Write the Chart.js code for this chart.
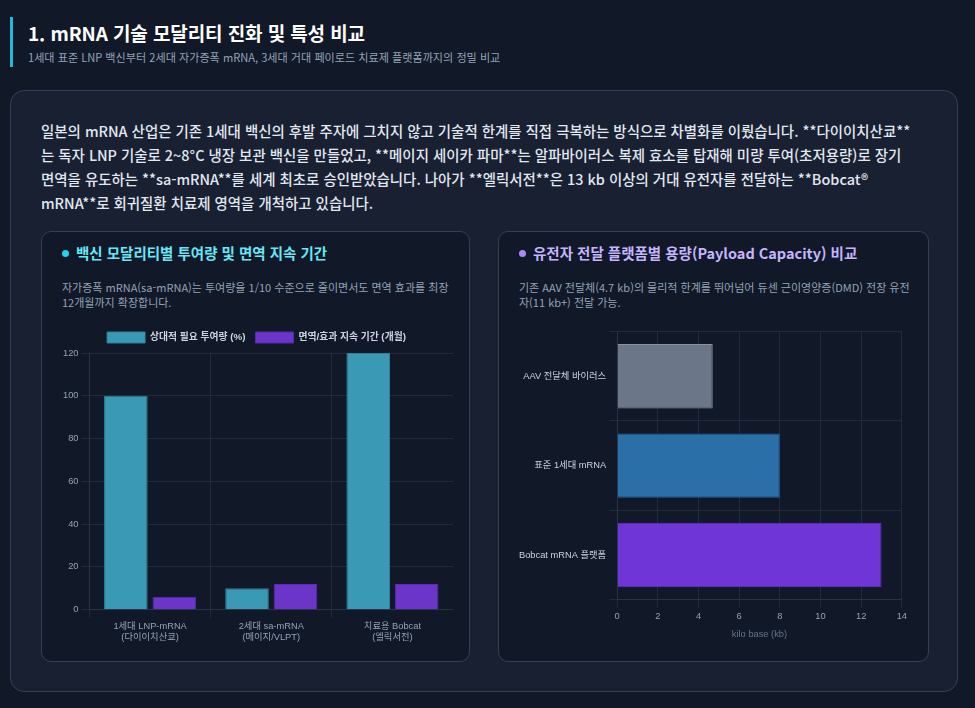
<!DOCTYPE html>
<html lang="ko">
<head>
<meta charset="utf-8">
<script src="https://cdn.jsdelivr.net/npm/chart.js@4.4.0/dist/chart.umd.min.js"></script>
<style>
  html, body { margin:0; padding:0; }
  body { width:975px; height:708px; background:#111827; font-family:"Noto Sans CJK KR","Noto Sans",sans-serif; position:relative; overflow:hidden; }
  .hdr { position:absolute; left:10px; top:17px; height:48px; padding-top:2px; border-left:3px solid #22b8d8; padding-left:15px; }
  .hdr h1 { margin:0; font-size:19px; font-weight:700; color:#ffffff; line-height:28px; letter-spacing:-0.1px; }
  .hdr p { margin:1px 0 0 0; font-size:11.1px; color:#94a3b8; line-height:18px; }
  .main { position:absolute; left:10px; top:90px; width:946px; height:600px; border:1px solid #334155; border-radius:14px; background:#182032; }
  .intro { position:absolute; left:30px; top:28px; width:872px; margin:0; font-size:14.45px; line-height:24px; color:#e2e8f0; font-weight:500; }
  .card { position:absolute; top:140px; height:429px; border:1px solid #334155; border-radius:10px; background:#111827; }
  .card h2 { position:absolute; left:20px; top:10px; margin:0; font-size:14.5px; font-weight:700; line-height:22px; }
  .card h2 .dot { display:inline-block; width:7px; height:7px; border-radius:50%; margin-right:7px; vertical-align:middle; position:relative; top:-2px; }
  .card .desc { position:absolute; left:20px; top:48px; width:392px; margin:0; font-size:11px; line-height:14.5px; color:#94a3b8; }
  .cwrap { position:absolute; }
</style>
</head>
<body>
<div class="hdr">
  <h1>1. mRNA 기술 모달리티 진화 및 특성 비교</h1>
  <p>1세대 표준 LNP 백신부터 2세대 자가증폭 mRNA, 3세대 거대 페이로드 치료제 플랫폼까지의 정밀 비교</p>
</div>
<div class="main">
  <p class="intro">일본의 mRNA 산업은 기존 1세대 백신의 후발 주자에 그치지 않고 기술적 한계를 직접 극복하는 방식으로 차별화를 이뤘습니다. **다이이치산쿄**는 독자 LNP 기술로 2~8°C 냉장 보관 백신을 만들었고, **메이지 세이카 파마**는 알파바이러스 복제 효소를 탑재해 미량 투여(초저용량)로 장기 면역을 유도하는 **sa-mRNA**를 세계 최초로 승인받았습니다. 나아가 **엘릭서전**은 13 kb 이상의 거대 유전자를 전달하는 **Bobcat® mRNA**로 회귀질환 치료제 영역을 개척하고 있습니다.</p>
  <div class="card" style="left:30px; width:427px;">
    <h2 style="color:#67e8f9;"><span class="dot" style="background:#22d3ee;"></span>백신 모달리티별 투여량 및 면역 지속 기간</h2>
    <p class="desc">자가증폭 mRNA(sa-mRNA)는 투여량을 1/10 수준으로 줄이면서도 면역 효과를 최장 12개월까지 확장합니다.</p>
    <div class="cwrap" style="left:18px; top:90px; width:393px; height:324px;"><canvas id="c1"></canvas></div>
  </div>
  <div class="card" style="left:487px; width:429px;">
    <h2 style="color:#c4b5fd;"><span class="dot" style="background:#a78bfa;"></span>유전자 전달 플랫폼별 용량(Payload Capacity) 비교</h2>
    <p class="desc">기존 AAV 전달체(4.7 kb)의 물리적 한계를 뛰어넘어 듀센 근이영양증(DMD) 전장 유전자(11 kb+) 전달 가능.</p>
    <div class="cwrap" style="left:17px; top:91px; width:394px; height:321px;"><canvas id="c2"></canvas></div>
  </div>
</div>
<script>
const vaccineCategories = [["1세대 LNP-mRNA","(다이이치산쿄)"],["2세대 sa-mRNA","(메이지/VLPT)"],["치료용 Bobcat","(엘릭서전)"]];
const doseLabel = "상대적 필요 투여량 (%)";
const durationLabel = "면역/효과 지속 기간 (개월)";
const doseValues = [100, 10, 120];
const durationValues = [6, 12, 12];
const doseTicksMax = 120;

const platformCategories = ["AAV 전달체 바이러스","표준 1세대 mRNA","Bobcat mRNA 플랫폼"];
const payloadValues = [4.7, 8, 13];
const payloadAxisTitle = "kilo base (kb)";
const payloadMax = 14;

Chart.defaults.font.family = "'Liberation Sans','Noto Sans CJK KR',sans-serif";
Chart.defaults.color = "#94a3b8";
const grid = "rgba(51,65,85,0.45)";
const fs = 9.3;

new Chart(document.getElementById('c1'), {
  type:'bar',
  data:{ labels:vaccineCategories, datasets:[
    { label:doseLabel, data:doseValues, backgroundColor:'#3a9ab5', borderColor:'#2f8199', borderWidth:1 },
    { label:durationLabel, data:durationValues, backgroundColor:'#6a35c8', borderColor:'#5a2bb0', borderWidth:1 }
  ]},
  options:{ responsive:true, maintainAspectRatio:false, animation:false,
    plugins:{ legend:{ labels:{ color:'#cbd5e1', boxWidth:38, boxHeight:11, font:{size:9.8, weight:'bold'} } }, tooltip:{enabled:false} },
    scales:{
      x:{ grid:{ color:grid }, border:{color:grid}, ticks:{ color:'#94a3b8', font:{size:fs} } },
      y:{ min:0, max:doseTicksMax, ticks:{ stepSize:20, color:'#94a3b8', font:{size:fs} }, grid:{ color:grid }, border:{color:grid} }
    }
  }
});

new Chart(document.getElementById('c2'), {
  type:'bar',
  data:{ labels:platformCategories, datasets:[
    { label:'payload', data:payloadValues, backgroundColor:['#6b7689','#2a6fa8','#7035d6'], borderColor:['#8892a3','#24609a','#6a30c8'], borderWidth:1 }
  ]},
  options:{ indexAxis:'y', responsive:true, maintainAspectRatio:false, animation:false,
    plugins:{ legend:{display:false}, tooltip:{enabled:false} },
    scales:{
      x:{ min:0, max:payloadMax, ticks:{ stepSize:2, color:'#94a3b8', font:{size:fs} }, grid:{ color:grid }, border:{color:grid},
          title:{ display:true, text:payloadAxisTitle, color:'#64748b', font:{size:fs} } },
      y:{ ticks:{ color:'#cbd5e1', font:{size:fs} }, grid:{ color:grid }, border:{color:grid} }
    }
  }
});
</script>
</body>
</html>
